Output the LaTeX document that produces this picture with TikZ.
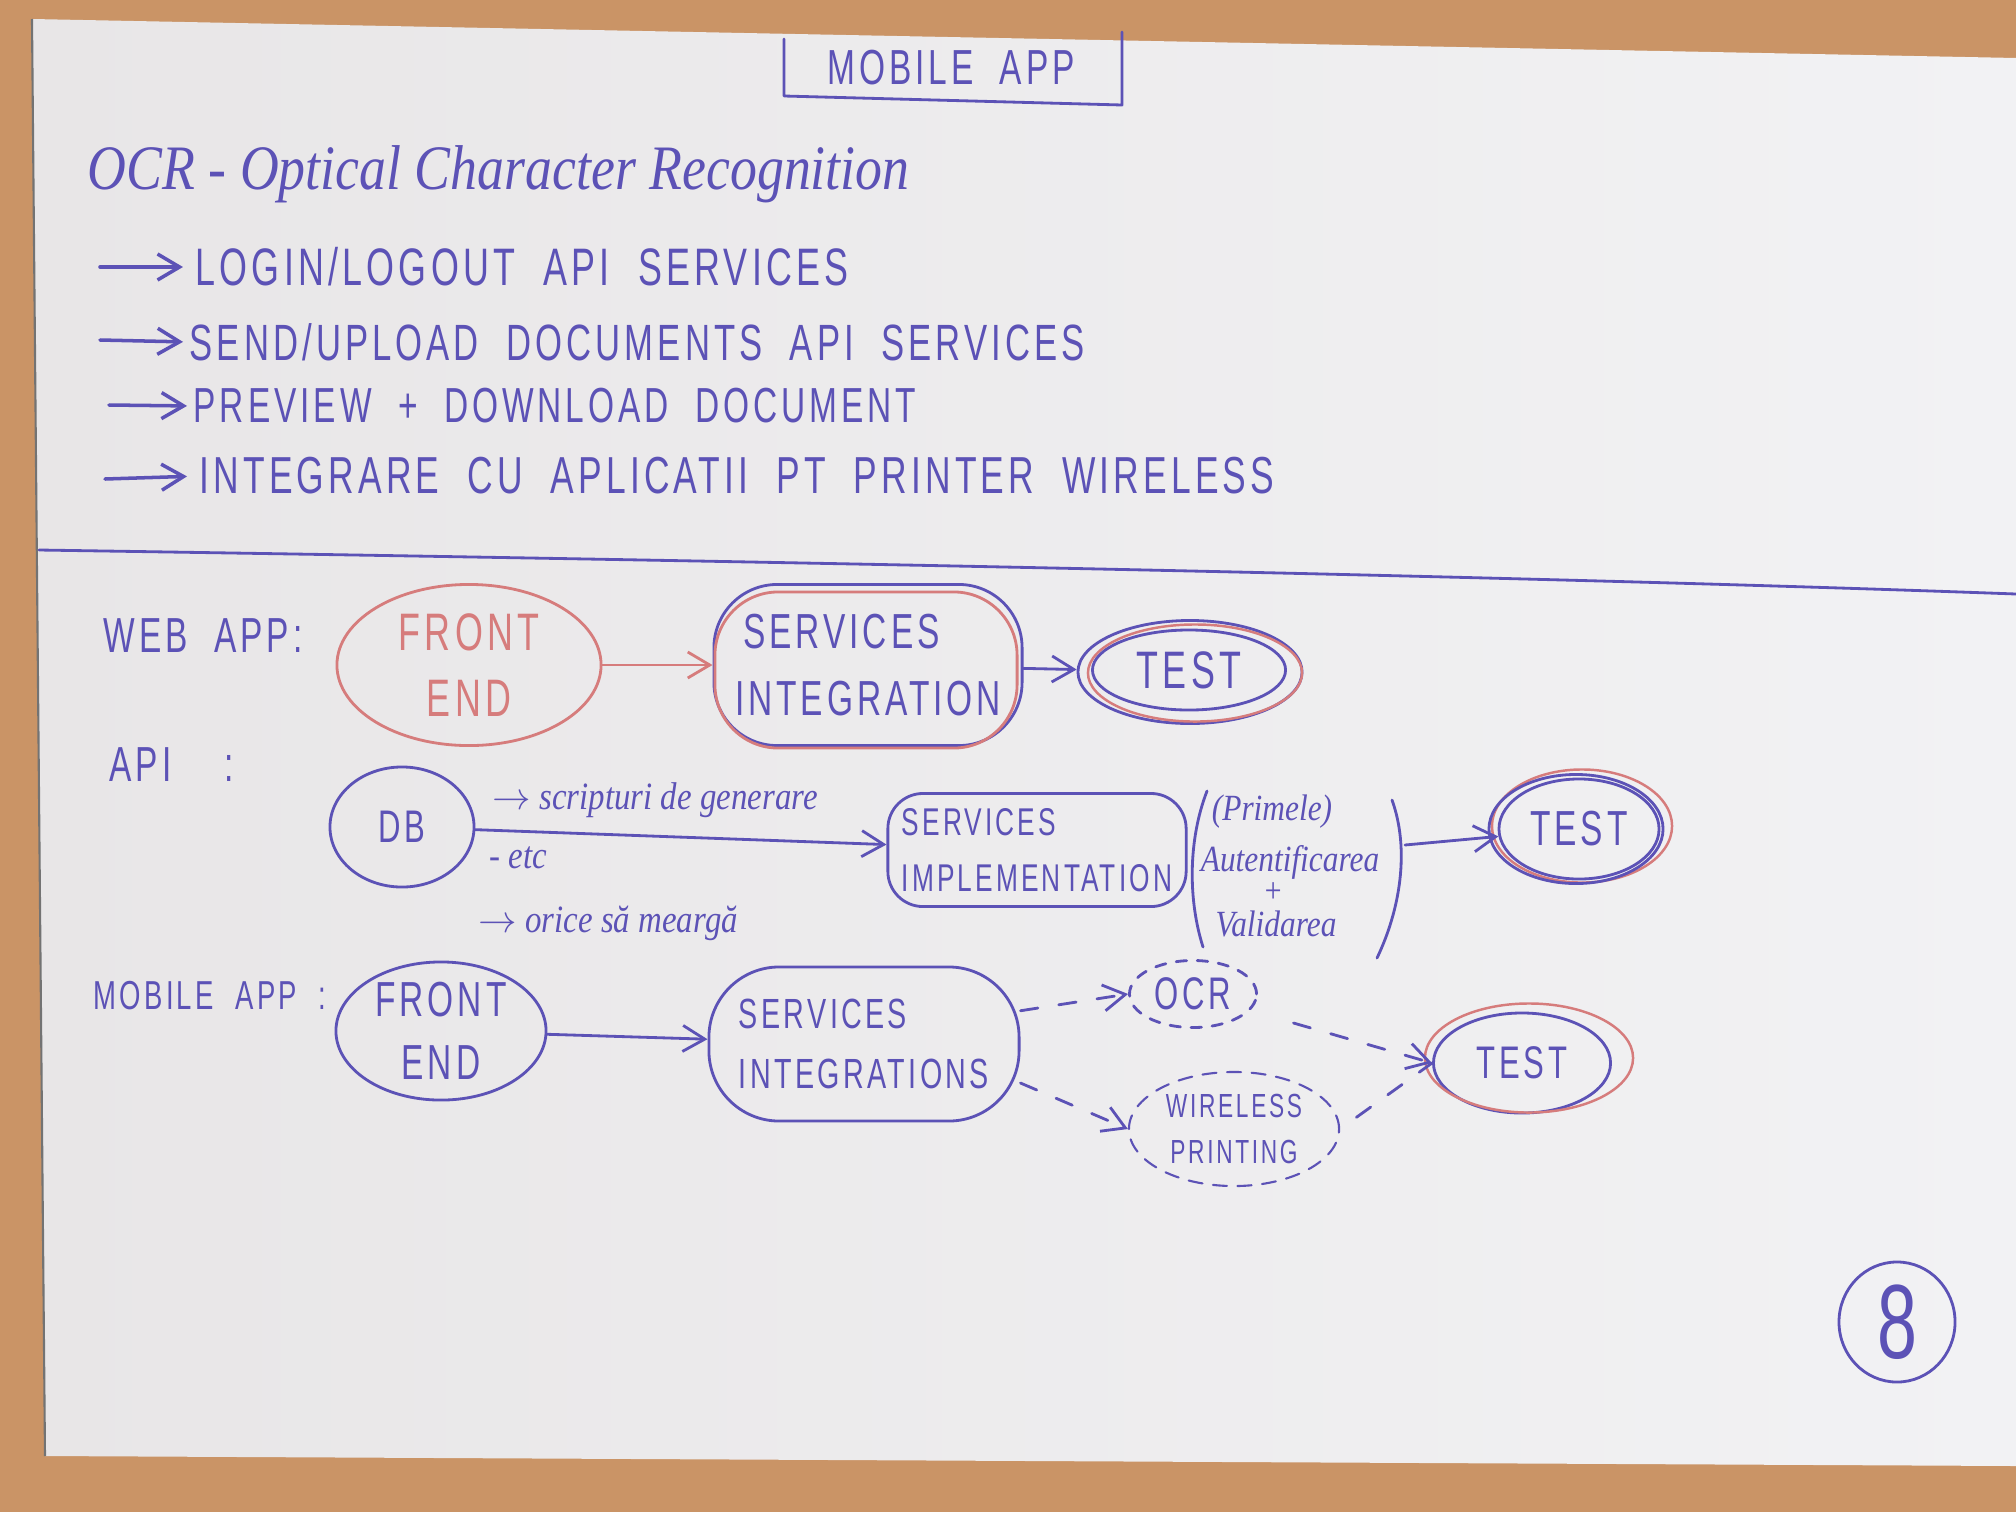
\documentclass[tikz,border=0pt]{standalone}
\usepackage{fontspec}
\usetikzlibrary{shapes.geometric, arrows.meta, positioning, calc}
\newfontfamily\hand[FakeStretch=0.68,LetterSpace=8,WordSpace=2]{Liberation Sans}
\newfontfamily\cursive[FakeStretch=0.85]{Liberation Serif}
\newcommand\handsize[2]{\hand\fontsize{#1}{#2}\selectfont}
\newcommand\notesize[2]{\cursive\itshape\fontsize{#1}{#2}\selectfont}
\definecolor{ink}{RGB}{92,82,182}
\definecolor{pencil}{RGB}{214,124,124}
\definecolor{paperL}{RGB}{232,230,231}
\definecolor{paperR}{RGB}{242,242,244}
\definecolor{wood}{RGB}{202,148,102}

\begin{document}
\begin{tikzpicture}[x=0.01cm, y=-0.01cm,
        caps/.style={font=\handsize{13}{19}, text=ink, inner sep=0pt},
        notes/.style={font=\notesize{11}{13}, text=ink, inner sep=0pt},
        inkline/.style={draw=ink, line width=0.8pt, line cap=round, line join=round},
        blob/.style={ellipse, inkline, caps, align=center},
        roundbox/.style={rectangle, rounded corners=12pt, inkline, caps, align=left, inner xsep=6pt},
        ring/.style={ellipse, inkline},
        redring/.style={ellipse, draw=pencil, line width=0.7pt},
        arrow/.style={inkline, -{Straight Barb[length=2.2mm, width=2.6mm]}},
        redarrow/.style={arrow, draw=pencil},
        dasharrow/.style={arrow, dash pattern=on 5pt off 6pt},
        dashline/.style={inkline, dash pattern=on 5pt off 6pt},
        bullet/.style={arrow, line width=1pt}
    ]

        % table and sheet
        \useasboundingbox (0,0) rectangle (2016,1512);
        \fill[wood] (0,0) rectangle (2016,1512);
        \shade[left color=paperL, right color=paperR] (32,19) -- (2016,58) -- (2016,1466) -- (45,1456) -- cycle;
        \draw[black!55, line width=0.6pt] (32,19) -- (45,1456);

        % header
        \node[caps, font=\handsize{14}{16}] (title) at (951,68) {MOBILE APP};
        \draw[inkline] (784,39) -- (784,96) -- (1122,105) -- (1122,32);

        \node[notes, font=\notesize{18}{22}, anchor=west] (ocr) at (87,174) {OCR - Optical Character Recognition};

        \coordinate (b1) at (100,267);
        \coordinate (b2) at (100,340);
        \coordinate (b3) at (109,405);
        \coordinate (b4) at (105,479);
        \node[caps, font=\handsize{15}{17}, anchor=west] (login) at (195,267) {LOGIN/LOGOUT API SERVICES};
        \node[caps, font=\handsize{14.5}{17}, anchor=west] (upload) at (189,342) {SEND/UPLOAD DOCUMENTS API SERVICES};
        \node[caps, font=\handsize{14}{17}, anchor=west] (preview) at (193,406) {PREVIEW + DOWNLOAD DOCUMENT};
        \node[caps, font=\handsize{14.8}{17}, anchor=west] (printer) at (199,476) {INTEGRARE CU APLICATII PT PRINTER WIRELESS};
        \draw[bullet, shorten >=0.12cm] (b1) -- (login.west);
        \draw[bullet, shorten >=0.06cm] (b2) -- (upload.west);
        \draw[bullet, shorten >=0.06cm] (b3) -- (preview.west);
        \draw[bullet, shorten >=0.12cm] (b4) -- (printer.west);

        \draw[inkline] (39,550) .. controls (700,560) and (1500,575) .. (2016,594);

        % web app
        \node[caps, font=\handsize{14}{17}, anchor=west] (webapp) at (103,636) {WEB APP:};
        \node[blob, draw=pencil, text=pencil, font=\handsize{15}{19}, minimum width=2.64cm, minimum height=1.61cm] (webfe) at (469,665) {FRONT\\END};
        \node[roundbox, rounded corners=18pt, font=\handsize{14}{19}, minimum width=3.08cm, minimum height=1.61cm] (websi) at (868,665) {\,SERVICES\\INTEGRATION};
        \node[roundbox, rounded corners=18pt, draw=pencil, minimum width=3.02cm, minimum height=1.56cm] (websi-red) at (866,670) {};
        \node[ring, caps, font=\handsize{15}{18}, minimum width=1.93cm, minimum height=0.80cm] (webtest) at (1189,670) {TEST};
        \node[ring, minimum width=2.24cm, minimum height=1.03cm] (webtest-outer) at (1190,672) {};
        \node[redring, minimum width=2.14cm, minimum height=0.97cm] (webtest-red) at (1195,673) {};
        \draw[redarrow] (webfe) -- (websi);
        \draw[arrow] (websi) -- (webtest-outer);

        % api
        \node[caps, font=\handsize{14}{17}, anchor=west] (api) at (109,765) {API \ :};
        \node[blob, font=\handsize{13}{16}, minimum width=1.44cm, minimum height=1.20cm] (apidb) at (402,827) {DB};
        \node[notes, anchor=west] (scripts) at (492,800) {$\to$ scripturi de generare};
        \node[notes, anchor=west] (etc) at (489,858) {- etc};
        \node[notes, anchor=west] (orice) at (478,923) {$\to$ orice să meargă};
        \node[roundbox, rounded corners=10pt, font=\handsize{11}{16}, minimum width=2.92cm, minimum height=1.13cm, inner xsep=4pt] (apisi) at (1037,850) {SERVICES\\IMPLEMENTATION};
        \node[notes, font=\notesize{10.5}{12}] (primele) at (1272,812) {(Primele)};
        \node[notes, font=\notesize{10.5}{12}] (autent) at (1290,862) {Autentificarea};
        \node[notes, font=\notesize{10}{12}] (plus) at (1273,893) {+};
        \node[notes, font=\notesize{10.5}{12}] (valid) at (1276,924) {Validarea};
        \draw[inkline] (1207,791) .. controls (1188,840) and (1188,900) .. (1203,947);
        \draw[inkline] (1392,800) .. controls (1410,850) and (1400,910) .. (1377,958);
        \coordinate (parR) at (1405,845);
        \node[ring, caps, font=\handsize{14}{17}, minimum width=1.60cm, minimum height=1.00cm] (apitest) at (1579,829) {TEST};
        \node[redring, minimum width=1.80cm, minimum height=1.13cm] (apitest-red) at (1582,826) {};
        \node[ring, minimum width=1.74cm, minimum height=1.09cm] (apitest-outer) at (1576,829) {};
        \draw[arrow] (apidb) -- (apisi);
        \draw[arrow] (parR) -- (apitest);

        % mobile app
        \node[caps, font=\handsize{11.5}{15}, anchor=west] (mobapp) at (93,996) {MOBILE APP :};
        \node[blob, font=\handsize{14}{18}, minimum width=2.10cm, minimum height=1.31cm] (mobfe) at (441,1031) {FRONT\\END};
        \node[roundbox, rounded corners=20pt, font=\handsize{12}{17}, minimum width=3.10cm, minimum height=1.54cm] (mobsi) at (864,1044) {SERVICES\\INTEGRATIONS};
        \node[ring, dashed, caps, font=\handsize{13}{16}, minimum width=1.27cm, minimum height=0.67cm] (mobocr) at (1193,994) {OCR};
        \node[ring, dash pattern=on 4pt off 3pt, line width=0.6pt, caps, align=center, font=\handsize{9.5}{13}, minimum width=2.10cm, minimum height=1.14cm] (mobwp) at (1234,1129) {WIRELESS\\PRINTING};
        \node[ring, caps, font=\handsize{13}{16}, minimum width=1.77cm, minimum height=1.00cm] (mobtest) at (1522,1063) {TEST};
        \node[redring, minimum width=2.08cm, minimum height=1.09cm] (mobtest-red) at (1529,1058) {};
        \draw[arrow] (mobfe) -- (mobsi);
        \draw[dasharrow] (mobsi.12) -- (mobocr.west);
        \draw[dasharrow] (mobsi.-14) -- (mobwp.west);
        \draw[dasharrow, shorten <=0.45cm] (mobocr) -- (mobtest.west);
        \draw[dashline, shorten <=0.2cm] (mobwp.east) -- (mobtest.west);

        % page number
        \node[ellipse, inkline, caps, font=\handsize{30}{32}, minimum width=1.16cm, minimum height=1.20cm] (pagenum) at (1897,1322) {8};
    \end{tikzpicture}
\end{document}
